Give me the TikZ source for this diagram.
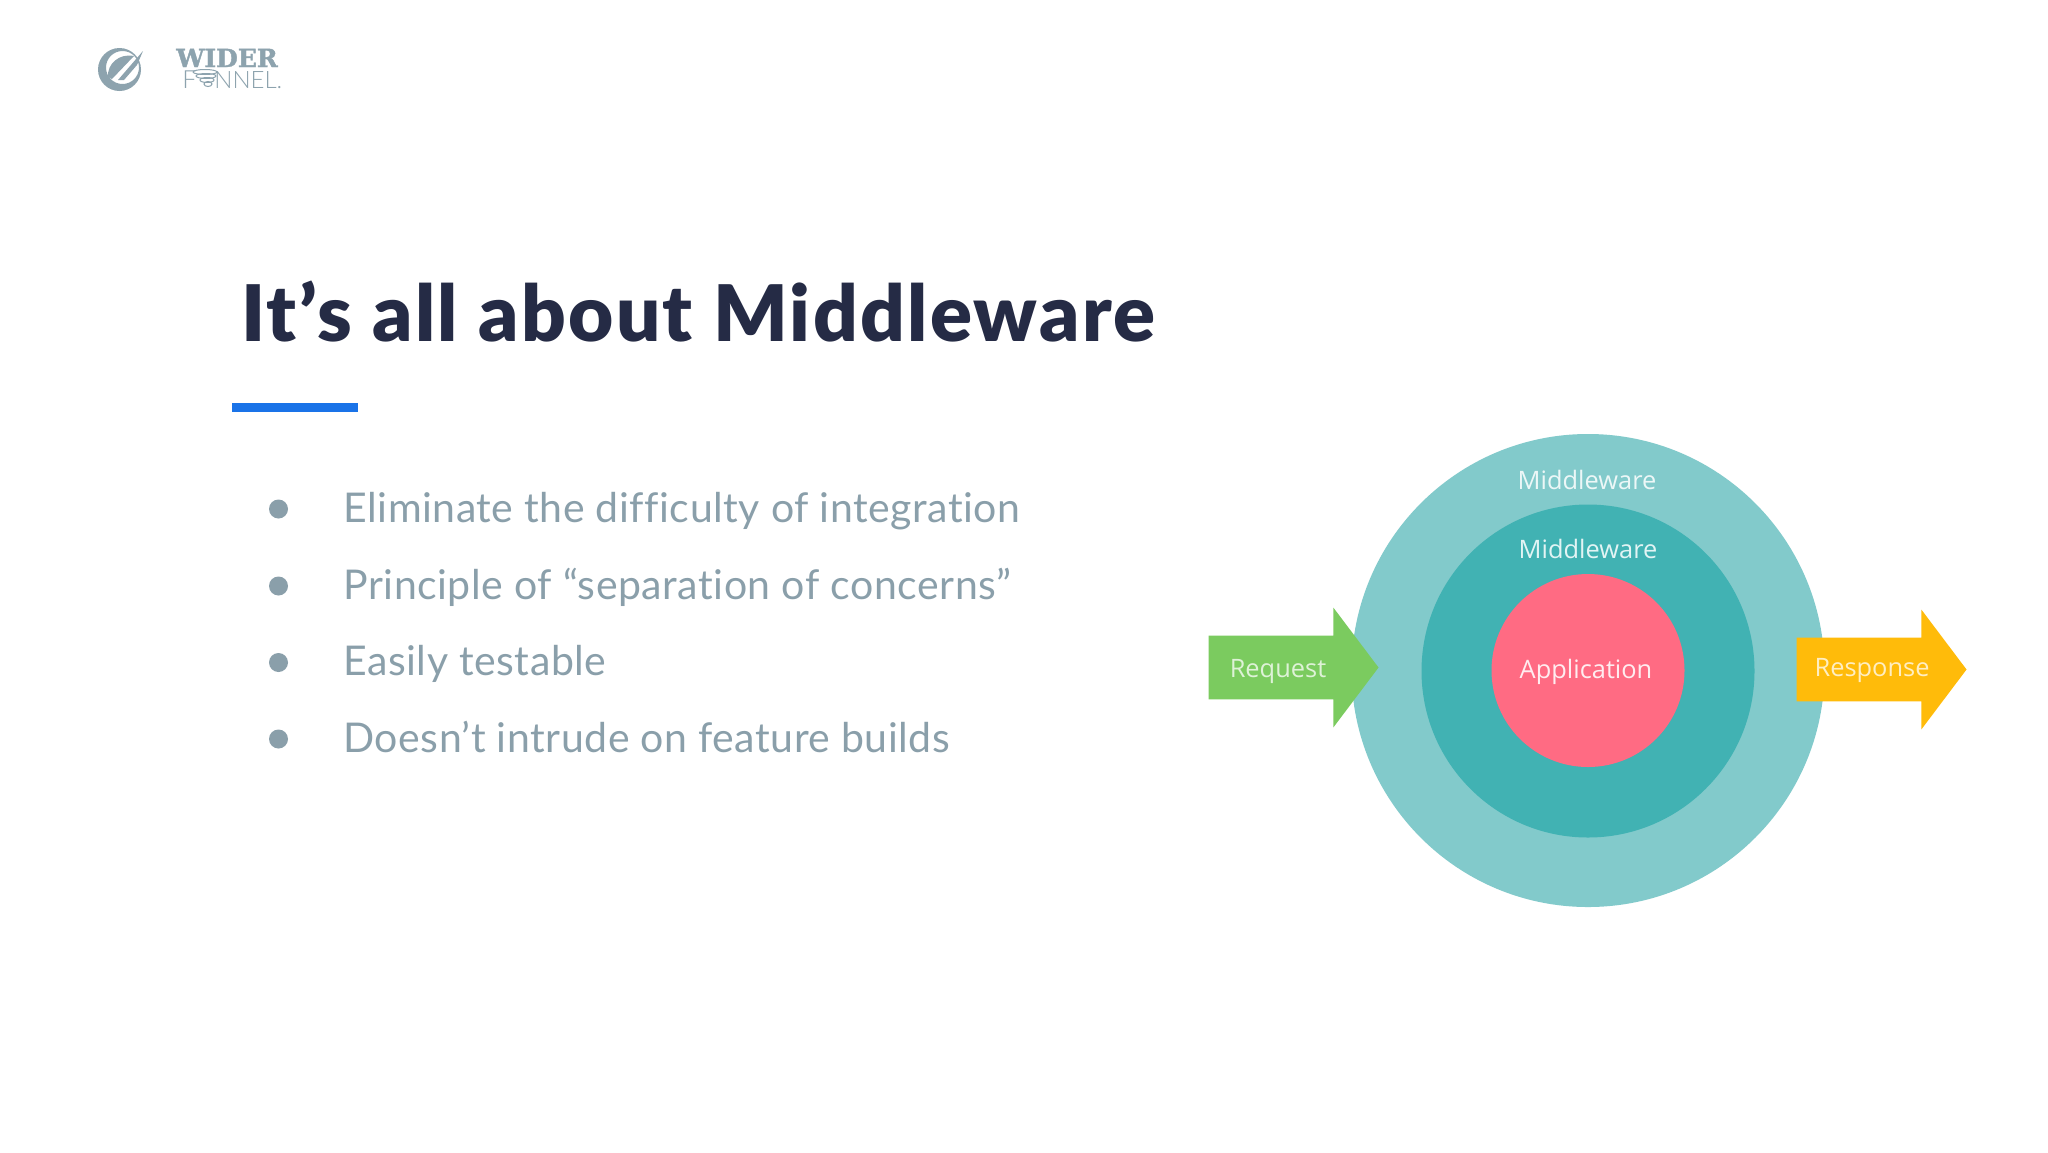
\documentclass[tikz,border=0pt]{standalone}
\usepackage{fontspec}
\setmainfont{Lato}[Ligatures=NoCommon, LetterSpace=1.3]
\newfontfamily\titlefont{Lato Black}[Ligatures=NoCommon, LetterSpace=3]
\newfontfamily\lightfont{Lato Light}
\newfontfamily\labelfont{Open Sans}
\newfontfamily\logofont{DejaVu Serif}[BoldFeatures={FakeBold=1.5}]
\usetikzlibrary{shapes.arrows, positioning}
\definecolor{titleink}{RGB}{37,43,69}
\definecolor{bodygray}{RGB}{138,159,170}
\definecolor{barblue}{RGB}{26,115,232}
\definecolor{outerteal}{RGB}{130,202,203}
\definecolor{innerteal}{RGB}{65,178,179}
\definecolor{apppink}{RGB}{255,107,131}
\definecolor{reqgreen}{RGB}{123,203,95}
\definecolor{respyellow}{RGB}{255,187,10}
\definecolor{logogray}{RGB}{141,163,174}

\begin{document}
\begin{tikzpicture}[
    x=0.5pt, y=-0.5pt,
    ring/.style={circle, inner sep=0pt},
    flow/.style={single arrow, anchor=tip, inner sep=0pt, text height=31.5pt, text depth=0pt, text width=0pt,
                 minimum height=85pt, single arrow head extend=14pt, single arrow tip angle=106},
    ringtext/.style={inner sep=0pt, font=\labelfont\fontsize{12.7}{14}\selectfont},
    bullet/.style={circle, fill=bodygray, inner sep=0pt, minimum size=9.5pt},
    item/.style={anchor=base west, inner sep=0pt, text=bodygray, font=\fontsize{20.5}{24}\selectfont}
]
    \useasboundingbox[fill=white] (0,0) rectangle (2048,1152);

    % Logo
    \fill[logogray, even odd rule] (119.5,69.5) circle[radius=21.5] (122.5,67.5) circle[radius=16.5];
    \fill[logogray] (108,77) .. controls (107,64) and (119,53) .. (134,56) -- (112,79) -- cycle;
    \fill[logogray] (118,80) -- (143,51) -- (137,65) -- (124,80) -- cycle;
    \node[anchor=base west, inner sep=0pt, text=logogray, font=\logofont\bfseries\fontsize{12.5}{14}\selectfont] (wider) at (176,67) {WIDER};
    \node[anchor=base west, inner sep=0pt, text=logogray, font=\lightfont\fontsize{12.5}{14}\selectfont] (funf) at (182,88) {F};
    \node[anchor=base west, inner sep=0pt, text=logogray, font=\lightfont\fontsize{12}{14}\selectfont] (funnel) at (214,88) {NNEL.};
    \foreach \ex/\ey/\erx in {205/72/12, 206/76/10, 207/80/7, 208/84/4}
        \draw[logogray, line width=0.5pt] (\ex,\ey) ellipse[x radius=\erx, y radius=2.5];

    % Title
    \node[anchor=base west, inner sep=0pt, text=titleink, font=\titlefont\fontsize{39}{44}\selectfont] (title) at (241,341) {It’s all about Middleware};
    \fill[barblue] (232,403) rectangle (358,412);

    % Bullets
    \node[bullet] (b1) at (278.5,509) {};
    \node[bullet] (b2) at (278.5,586) {};
    \node[bullet] (b3) at (278.5,662.5) {};
    \node[bullet] (b4) at (278.5,739) {};
    \node[item] (t1) at (343,522) {Eliminate the difficulty of integration};
    \node[item] (t2) at (343,599) {Principle of “separation of concerns”};
    \node[item] (t3) at (343,675.5) {Easily testable};
    \node[item] (t4) at (343,752.5) {Doesn’t intrude on feature builds};

    % Rings
    \node[ring, fill=outerteal, minimum size=236.5pt] (outer) at (1588,670.5) {};
    \node[ring, fill=innerteal, minimum size=166.5pt] (middle) at (1588,671) {};
    \node[ring, fill=apppink, minimum size=96.5pt] (app) at (1588,670.5) {};
    \node[ringtext, text=white!88!apppink] (applabel) at (1586,671.5) {Application};
    \node[ringtext, text=white!85!outerteal] (mwouter) at (1587,480) {Middleware};
    \node[ringtext, text=white!85!innerteal] (mwinner) at (1588,549) {Middleware};

    % Arrows
    \node[flow, fill=reqgreen] (request) at (1379,667.5) {};
    \node[flow, fill=respyellow] (response) at (1967,669.5) {};
    \node[ringtext, text=white!75!reqgreen] (reqlabel) at (1278,671) {Request};
    \node[ringtext, text=white!75!respyellow] (resplabel) at (1872,670.5) {Response};
\end{tikzpicture}
\end{document}
